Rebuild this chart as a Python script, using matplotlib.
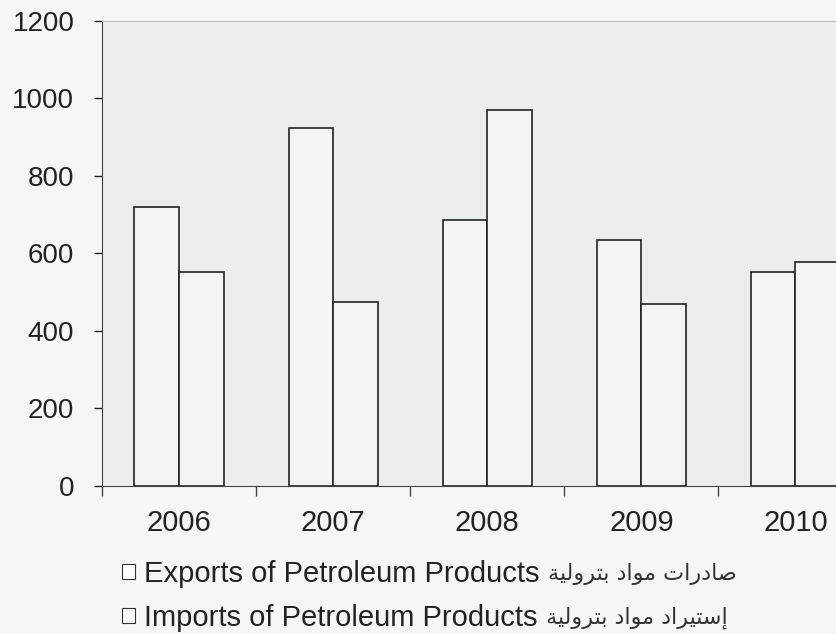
import numpy as np
import matplotlib.pyplot as plt
from matplotlib.patches import Patch

# Дані
years = ['2006', '2007', '2008', '2009', '2010']
exports = [720, 923, 686, 634, 552]
imports = [552, 475, 970, 468, 578]

labels_en = ['Exports of Petroleum Products', 'Imports of Petroleum Products']
# Арабські підписи: форми представлення у візуальному порядку (matplotlib не робить шейпінг)
labels_ar = ['\uFE94\uFEF4\uFEDF\uFEED\uFEAE\uFE98\uFE91 \uFEA9\uFE8D\uFEEE\uFEE3 \uFE95\uFE8D\uFEAD\uFEA9\uFE8E\uFEBB',
             '\uFE94\uFEF4\uFEDF\uFEED\uFEAE\uFE98\uFE91 \uFEA9\uFE8D\uFEEE\uFEE3 \uFEA9\uFE8D\uFEAE\uFEF4\uFE98\uFEB3\uFE87']

plt.rcParams['font.family'] = ['Liberation Sans', 'DejaVu Sans']

fig = plt.figure(figsize=(8.37, 6.34), dpi=100, facecolor='#f6f7f5')
ax = fig.add_axes([0.122, 0.234, 0.878, 0.733])
ax.set_facecolor('#eceeee')

x = np.arange(len(years))
w = 0.29
ax.bar(x - w / 2, exports, w, color='#f3f4f3', edgecolor='#222222', linewidth=1.2)
ax.bar(x + w / 2, imports, w, color='#f3f4f3', edgecolor='#222222', linewidth=1.2)

ax.set_xlim(-0.5, 4.27)
ax.set_ylim(0, 1200)
ax.set_yticks(range(0, 1201, 200))
ax.tick_params(axis='y', labelsize=20, colors='#222222', length=6, width=1, pad=14)

# підписи років по центру груп, риски між групами
ax.set_xticks(x, years)
ax.tick_params(axis='x', which='major', length=0, labelsize=21, pad=17, colors='#222222')
ax.set_xticks(np.arange(-0.5, 4.5, 1), minor=True)
ax.tick_params(axis='x', which='minor', length=7, width=1, color='#444444')

ax.spines['right'].set_visible(False)
ax.spines['top'].set_color('#bbbbbb')
ax.spines['left'].set_color('#444444')
ax.spines['bottom'].set_color('#444444')

handles = [Patch(facecolor='white', edgecolor='#333333', linewidth=0.8) for _ in labels_en]
leg = fig.legend(handles, labels_en, loc='upper left', bbox_to_anchor=(0.146, 0.117),
                 frameon=False, fontsize=21, handlelength=0.45, handleheight=0.45,
                 handletextpad=0.3, labelspacing=0.55, borderpad=0, borderaxespad=0,
                 labelcolor='#222222')

# арабський текст після англійського, дрібнішим шрифтом
fig.canvas.draw()
r = fig.canvas.get_renderer()
for t, ar in zip(leg.get_texts(), labels_ar):
    bb = t.get_window_extent(r)
    fig.text((bb.x1 + 8) / fig.bbox.width, (bb.y0 + bb.y1) / 2 / fig.bbox.height, ar,
             fontsize=16, color='#333333', va='center', ha='left', family='DejaVu Sans')

plt.savefig('out.png', dpi=100, facecolor=fig.get_facecolor())
